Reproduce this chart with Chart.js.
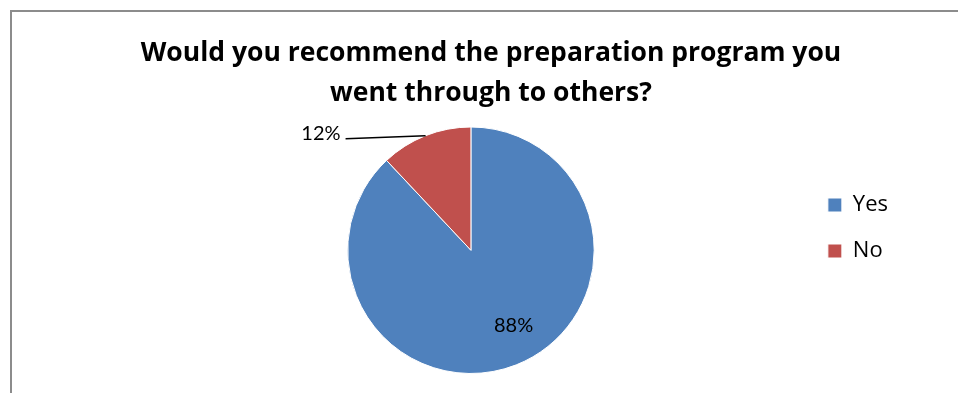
<!DOCTYPE html>
<html lang="en">
<head>
    <meta charset="UTF-8">
    <title>Preparation Program Survey</title>
    <script src="https://cdn.jsdelivr.net/npm/chart.js"></script>
    <style>
        html, body {
            margin: 0;
            padding: 0;
            background: #fff;
        }
        /* grey frame along the top and left edge */
        .frame {
            position: absolute;
            left: 10px;
            top: 10px;
            width: 948px;
            height: 383px;
            border-left: 2px solid #8c8c8c;
            border-top: 2px solid #8c8c8c;
            box-sizing: border-box;
        }
        .chart-box {
            position: absolute;
            left: 0;
            top: 0;
            width: 958px;
            height: 393px;
        }
    </style>
</head>
<body>
    <div class="frame"></div>
    <div class="chart-box"><canvas id="survey"></canvas></div>
    <script>
        const answers = ['Yes', 'No'];
        const shares = [88, 12];
        const sliceColors = ['#4F81BD', '#C0504D'];
        const titleLines = ['Would you recommend the preparation program you', 'went through to others?'];

        const LABEL_FONT = "Lato, 'Open Sans', sans-serif";
        const TITLE_FONT = "'Open Sans', Lato, sans-serif";

        // percent labels: big slices get theirs inside, small ones outside with a leader line
        const sliceLabels = {
            id: 'sliceLabels',
            afterDatasetsDraw(chart) {
                const ctx = chart.ctx;
                const arcs = chart.getDatasetMeta(0).data;
                const total = shares.reduce((a, b) => a + b, 0);
                ctx.save();
                ctx.font = '20px ' + LABEL_FONT;
                ctx.fillStyle = '#000';
                ctx.strokeStyle = '#000';
                ctx.lineWidth = 1.5;
                arcs.forEach((arc, i) => {
                    const p = arc.getProps(['x', 'y', 'startAngle', 'endAngle', 'outerRadius'], true);
                    const mid = (p.startAngle + p.endAngle) / 2;
                    const text = Math.round(shares[i] / total * 100) + '%';
                    if (shares[i] / total > 0.25) {
                        const r = p.outerRadius * 0.7;
                        ctx.textAlign = 'center';
                        ctx.textBaseline = 'middle';
                        ctx.fillText(text, p.x + Math.cos(mid - 0.14) * r, p.y + Math.sin(mid - 0.14) * r);
                    } else {
                        const ex = p.x + Math.cos(mid) * p.outerRadius;
                        const ey = p.y + Math.sin(mid) * p.outerRadius;
                        const lx = ex - 80, ly = ey + 3;
                        ctx.beginPath();
                        ctx.moveTo(ex, ey);
                        ctx.lineTo(lx, ly);
                        ctx.stroke();
                        ctx.textAlign = 'right';
                        ctx.textBaseline = 'alphabetic';
                        ctx.fillText(text, lx - 5, ly + 1);
                    }
                });
                ctx.restore();
            }
        };

        // after layout: drop the legend a little and centre the title over the whole frame
        const layoutTweaks = {
            id: 'layoutTweaks',
            afterLayout(chart) {
                chart.legend.top += 41;
                chart.legend.bottom += 41;
                chart.titleBlock.left -= 27;
                chart.titleBlock.right -= 27;
            }
        };

        new Chart(document.getElementById('survey'), {
            type: 'pie',
            data: {
                labels: answers,
                datasets: [{
                    data: shares,
                    backgroundColor: sliceColors,
                    borderColor: '#fff',
                    borderWidth: 1
                }]
            },
            options: {
                responsive: true,
                maintainAspectRatio: false,
                animation: false,
                devicePixelRatio: 1,
                layout: {
                    padding: { left: 138, right: 60, top: 0, bottom: 19 }
                },
                plugins: {
                    title: {
                        display: true,
                        text: titleLines,
                        color: '#000',
                        font: { family: TITLE_FONT, size: 26.5, weight: 'bold', lineHeight: 1.5 },
                        padding: { top: 34, bottom: 13 }
                    },
                    legend: {
                        position: 'right',
                        labels: {
                            color: '#000',
                            font: { family: "'Open Sans', sans-serif", size: 22 },
                            boxWidth: 14,
                            boxHeight: 14,
                            padding: 24
                        }
                    },
                    tooltip: { enabled: false }
                }
            },
            plugins: [sliceLabels, layoutTweaks]
        });
    </script>
</body>
</html>
